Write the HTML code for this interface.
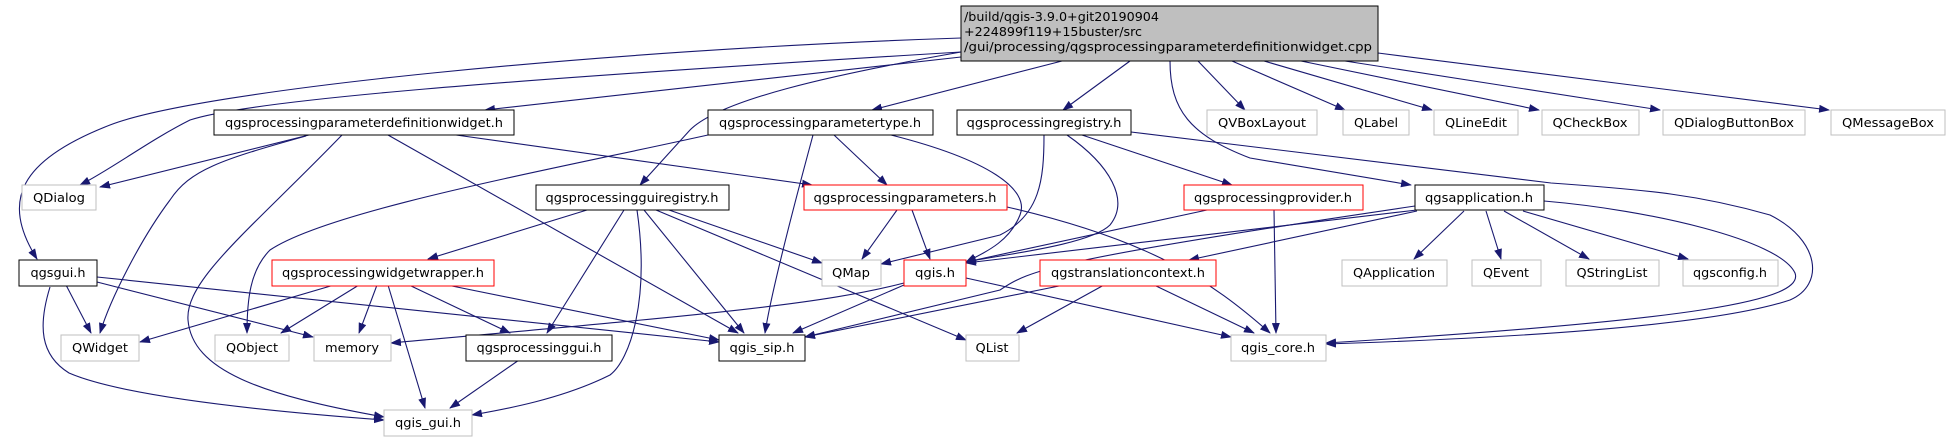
<!DOCTYPE html>
<html><head><meta charset="utf-8"><style>
html,body{margin:0;padding:0;background:#fff;width:1951px;height:440px;overflow:hidden}
text{font-family:"DejaVu Sans","Liberation Sans",sans-serif;font-size:12px;fill:#000}
.e{fill:none;stroke:#191970;stroke-width:1.1}
</style></head><body>
<svg width="1951" height="440" viewBox="0 0 1951 440" xmlns="http://www.w3.org/2000/svg">
<defs><marker id="a" markerWidth="11" markerHeight="8" refX="10" refY="4" orient="auto" markerUnits="userSpaceOnUse"><path d="M0,0 L11,4 L0,8 z" fill="#191970"/></marker></defs>
<g class="e" marker-end="url(#a)">
<path d="M961,38 C600,50 200,90 110,125 C20,160 0,200 37,259"/>
<path d="M961,52 C500,80 250,100 190,120 C150,140 110,170 80,185"/>
<path d="M961,57 L485,110"/>
<path d="M961,52 C830,75 720,100 690,130 L640,185"/>
<path d="M1062,61 L872,110"/>
<path d="M1130,61 L1063,110"/>
<path d="M1170,61 C1170,110 1190,135 1250,158 L1411,185"/>
<path d="M1198,61 L1245,110"/>
<path d="M1232,61 L1345,110"/>
<path d="M1264,61 L1432,110"/>
<path d="M1301,61 L1539,110"/>
<path d="M1345,61 L1660,110"/>
<path d="M1378,53 L1829,110"/>
<path d="M309,135 L100,187"/>
<path d="M306,136 C220,160 190,170 170,200 C140,240 110,300 100,333"/>
<path d="M342,135 C250,230 185,280 188,320 C192,370 260,395 384,417"/>
<path d="M388,135 L738,333"/>
<path d="M456,135 L812,185"/>
<path d="M708,135 C550,170 330,210 270,250 C250,270 247,300 247,333"/>
<path d="M813,135 C790,220 770,300 765,333"/>
<path d="M834,135 L887,185"/>
<path d="M891,135 C990,160 1030,190 1020,215 C1010,240 990,250 966,262"/>
<path d="M1044,135 C1044,180 1040,215 1000,235 L881,264"/>
<path d="M1067,135 C1110,165 1130,200 1110,225 C1090,245 1000,255 966,262"/>
<path d="M1082,135 L1232,185"/>
<path d="M1131,132 L1551,183 C1650,190 1700,195 1770,215 C1820,240 1825,285 1790,300 C1700,330 1450,340 1326,344"/>
<path d="M587,210 L428,259"/>
<path d="M624,210 L547,333"/>
<path d="M637,210 C650,300 630,360 610,375 C560,400 500,410 472,415"/>
<path d="M644,210 L744,333"/>
<path d="M669,210 L822,263"/>
<path d="M656,210 L966,340"/>
<path d="M897,210 L862,259"/>
<path d="M912,210 L930,259"/>
<path d="M1007,207 C1150,240 1210,280 1270,333"/>
<path d="M1207,210 L966,262"/>
<path d="M1274,210 L1276,333"/>
<path d="M1417,210 L966,263"/>
<path d="M1415,206 C1050,260 1030,270 1000,290 L805,337"/>
<path d="M1417,211 L1189,260"/>
<path d="M1464,211 L1414,259"/>
<path d="M1486,211 L1501,259"/>
<path d="M1504,211 L1589,259"/>
<path d="M1523,211 L1688,259"/>
<path d="M1544,201 C1650,210 1780,240 1795,273 C1805,300 1700,320 1326,343"/>
<path d="M66,285 L91,333"/>
<path d="M50,287 C38,326 40,355 69,373 C120,395 250,410 384,420"/>
<path d="M97,282 L313,337"/>
<path d="M97,277 L719,342"/>
<path d="M334,285 L140,342"/>
<path d="M359,285 L281,333"/>
<path d="M377,285 L359,333"/>
<path d="M388,285 L425,408"/>
<path d="M409,285 L510,333"/>
<path d="M447,285 L719,340"/>
<path d="M904,283 C820,305 700,315 391,343"/>
<path d="M904,285 L793,333"/>
<path d="M966,278 L1231,337"/>
<path d="M1064,285 L805,337"/>
<path d="M1104,285 L1017,333"/>
<path d="M1154,285 L1254,333"/>
<path d="M519,360 L450,408"/>
</g>
<rect x="961" y="6" width="417" height="55" fill="#bfbfbf" stroke="#000"/>
<text x="964" y="21" textLength="195" lengthAdjust="spacingAndGlyphs">/build/qgis-3.9.0+git20190904</text>
<text x="964" y="36" textLength="178" lengthAdjust="spacingAndGlyphs">+224899f119+15buster/src</text>
<text x="964" y="51" textLength="408" lengthAdjust="spacingAndGlyphs">/gui/processing/qgsprocessingparameterdefinitionwidget.cpp</text>
<g fill="#fff">
<rect x="214" y="110" width="300" height="25" stroke="#000"/>
<rect x="708" y="110" width="225" height="25" stroke="#000"/>
<rect x="957" y="110" width="174" height="25" stroke="#000"/>
<rect x="1207" y="110" width="110" height="25" stroke="#bfbfbf"/>
<rect x="1343" y="110" width="66" height="25" stroke="#bfbfbf"/>
<rect x="1434" y="110" width="84" height="25" stroke="#bfbfbf"/>
<rect x="1542" y="110" width="97" height="25" stroke="#bfbfbf"/>
<rect x="1663" y="110" width="142" height="25" stroke="#bfbfbf"/>
<rect x="1831" y="110" width="114" height="25" stroke="#bfbfbf"/>
<rect x="22" y="185" width="74" height="25" stroke="#bfbfbf"/>
<rect x="536" y="185" width="193" height="25" stroke="#000"/>
<rect x="804" y="185" width="203" height="25" stroke="#f00"/>
<rect x="1184" y="185" width="179" height="25" stroke="#f00"/>
<rect x="1415" y="185" width="129" height="25" stroke="#000"/>
<rect x="19" y="260" width="78" height="26" stroke="#000"/>
<rect x="272" y="260" width="222" height="26" stroke="#f00"/>
<rect x="822" y="260" width="59" height="26" stroke="#bfbfbf"/>
<rect x="904" y="260" width="62" height="26" stroke="#f00"/>
<rect x="1040" y="260" width="176" height="26" stroke="#f00"/>
<rect x="1342" y="260" width="105" height="26" stroke="#bfbfbf"/>
<rect x="1472" y="260" width="69" height="26" stroke="#bfbfbf"/>
<rect x="1566" y="260" width="93" height="26" stroke="#bfbfbf"/>
<rect x="1683" y="260" width="95" height="26" stroke="#bfbfbf"/>
<rect x="61" y="335" width="78" height="26" stroke="#bfbfbf"/>
<rect x="215" y="335" width="74" height="26" stroke="#bfbfbf"/>
<rect x="314" y="335" width="77" height="26" stroke="#bfbfbf"/>
<rect x="466" y="335" width="146" height="26" stroke="#000"/>
<rect x="719" y="335" width="86" height="26" stroke="#000"/>
<rect x="966" y="335" width="53" height="26" stroke="#bfbfbf"/>
<rect x="1231" y="335" width="95" height="26" stroke="#bfbfbf"/>
<rect x="384" y="410" width="88" height="26" stroke="#bfbfbf"/>
</g>
<g text-anchor="middle">
<text x="364" y="127" textLength="278" lengthAdjust="spacingAndGlyphs">qgsprocessingparameterdefinitionwidget.h</text>
<text x="820" y="127" textLength="202" lengthAdjust="spacingAndGlyphs">qgsprocessingparametertype.h</text>
<text x="1044" y="127" textLength="155" lengthAdjust="spacingAndGlyphs">qgsprocessingregistry.h</text>
<text x="1262" y="127" textLength="88" lengthAdjust="spacingAndGlyphs">QVBoxLayout</text>
<text x="1376" y="127" textLength="44" lengthAdjust="spacingAndGlyphs">QLabel</text>
<text x="1476" y="127" textLength="62" lengthAdjust="spacingAndGlyphs">QLineEdit</text>
<text x="1590" y="127" textLength="75" lengthAdjust="spacingAndGlyphs">QCheckBox</text>
<text x="1734" y="127" textLength="120" lengthAdjust="spacingAndGlyphs">QDialogButtonBox</text>
<text x="1888" y="127" textLength="92" lengthAdjust="spacingAndGlyphs">QMessageBox</text>
<text x="59" y="202" textLength="52" lengthAdjust="spacingAndGlyphs">QDialog</text>
<text x="632" y="202" textLength="173" lengthAdjust="spacingAndGlyphs">qgsprocessingguiregistry.h</text>
<text x="905" y="202" textLength="183" lengthAdjust="spacingAndGlyphs">qgsprocessingparameters.h</text>
<text x="1273" y="202" textLength="158" lengthAdjust="spacingAndGlyphs">qgsprocessingprovider.h</text>
<text x="1479" y="202" textLength="108" lengthAdjust="spacingAndGlyphs">qgsapplication.h</text>
<text x="58" y="277" textLength="55" lengthAdjust="spacingAndGlyphs">qgsgui.h</text>
<text x="383" y="277" textLength="202" lengthAdjust="spacingAndGlyphs">qgsprocessingwidgetwrapper.h</text>
<text x="851" y="277" textLength="38" lengthAdjust="spacingAndGlyphs">QMap</text>
<text x="935" y="277" textLength="40" lengthAdjust="spacingAndGlyphs">qgis.h</text>
<text x="1128" y="277" textLength="154" lengthAdjust="spacingAndGlyphs">qgstranslationcontext.h</text>
<text x="1394" y="277" textLength="82" lengthAdjust="spacingAndGlyphs">QApplication</text>
<text x="1506" y="277" textLength="46" lengthAdjust="spacingAndGlyphs">QEvent</text>
<text x="1612" y="277" textLength="71" lengthAdjust="spacingAndGlyphs">QStringList</text>
<text x="1730" y="277" textLength="74" lengthAdjust="spacingAndGlyphs">qgsconfig.h</text>
<text x="100" y="352" textLength="56" lengthAdjust="spacingAndGlyphs">QWidget</text>
<text x="252" y="352" textLength="52" lengthAdjust="spacingAndGlyphs">QObject</text>
<text x="352" y="352" textLength="54" lengthAdjust="spacingAndGlyphs">memory</text>
<text x="539" y="352" textLength="125" lengthAdjust="spacingAndGlyphs">qgsprocessinggui.h</text>
<text x="762" y="352" textLength="65" lengthAdjust="spacingAndGlyphs">qgis_sip.h</text>
<text x="992" y="352" textLength="33" lengthAdjust="spacingAndGlyphs">QList</text>
<text x="1278" y="352" textLength="74" lengthAdjust="spacingAndGlyphs">qgis_core.h</text>
<text x="428" y="427" textLength="66" lengthAdjust="spacingAndGlyphs">qgis_gui.h</text>
</g>
</svg>
</body></html>
